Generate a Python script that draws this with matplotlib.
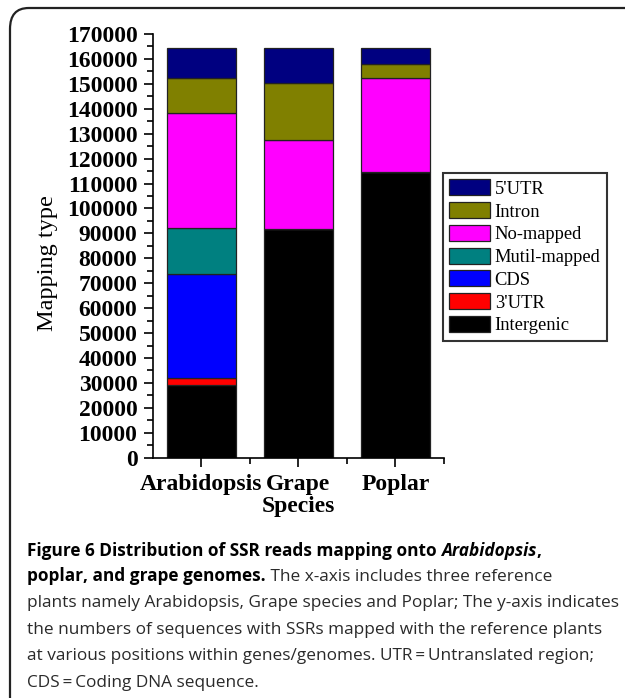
import matplotlib
matplotlib.use('Agg')
import matplotlib.pyplot as plt
from matplotlib.patches import FancyBboxPatch
from matplotlib.ticker import MultipleLocator, FixedLocator

species = ['Arabidopsis', 'Grape', 'Poplar']
# stacked from bottom to top
layers = ['Intergenic', "3'UTR", 'CDS', 'Mutil-mapped', 'No-mapped', 'Intron', "5'UTR"]
colors = ['#000000', '#ff0000', '#0000ff', '#008080', '#ff00ff', '#808000', '#000080']
intergenic = [29000, 91800, 114700]
utr3 = [2800, 0, 0]
cds = [41900, 0, 0]
mutil = [18300, 0, 0]
nomapped = [46200, 35600, 37500]
intron = [14000, 22800, 5900]
utr5 = [12000, 14000, 6100]
values = [intergenic, utr3, cds, mutil, nomapped, intron, utr5]

fig = plt.figure(figsize=(6.25, 6.98), dpi=100)
W, H = 625, 698

# rounded frame
frame = FancyBboxPatch((10 / W, -20 / H), 640 / W, (698 - 8 + 20) / H,
                       boxstyle='round,pad=0,rounding_size=0.03',
                       transform=fig.transFigure, fill=False,
                       ec='#222222', lw=1.6, clip_on=False)
fig.patches.append(frame)

ax = fig.add_axes([152.7 / W, 1 - 457.7 / H, (444 - 152.7) / W, (457.7 - 34) / H])

x = range(len(species))
bottom = [0, 0, 0]
handles = []
for name, col, vals in zip(layers, colors, values):
    b = ax.bar(x, vals, width=0.71, bottom=bottom, color=col,
               edgecolor='#222222', linewidth=0.9, label=name)
    handles.append(b)
    bottom = [bt + v for bt, v in zip(bottom, vals)]

ax.set_xlim(-0.5, 2.5)
ax.set_ylim(0, 170000)
ax.spines['top'].set_visible(False)
ax.spines['right'].set_visible(False)
ax.spines['left'].set_linewidth(1.2)
ax.spines['bottom'].set_linewidth(1.2)

ax.yaxis.set_major_locator(MultipleLocator(10000))
ax.yaxis.set_minor_locator(MultipleLocator(5000))
ax.set_xticks(list(x))
ax.set_xticklabels(['Arabidopsis', 'Grape', 'Poplar'])
ax.xaxis.set_minor_locator(FixedLocator([0.5, 1.5, 2.5]))
ax.tick_params(axis='both', which='major', direction='out', length=6.5, width=1.2)
ax.tick_params(axis='both', which='minor', direction='out', length=4.5, width=1.2)
ax.tick_params(axis='y', pad=4.5)
ax.tick_params(axis='x', pad=5)

for lab in ax.get_yticklabels():
    lab.set_fontfamily('Liberation Serif')
    lab.set_fontweight('bold')
    lab.set_fontsize(17)
for lab in ax.get_xticklabels():
    lab.set_fontfamily('Liberation Serif')
    lab.set_fontweight('bold')
    lab.set_fontsize(17)

ax.set_ylabel('Mapping type', family='Liberation Serif', fontsize=17.5)
ax.yaxis.set_label_coords(-0.325, 0.46)
ax.set_xlabel('Species', family='Liberation Serif', fontweight='bold', fontsize=17, labelpad=1)

leg = ax.legend(handles[::-1], layers[::-1], loc='upper left',
                bbox_to_anchor=(443 / W, 1 - 173 / H), bbox_transform=fig.transFigure,
                prop={'family': 'Liberation Serif', 'size': 13.3},
                frameon=True, fancybox=False, edgecolor='black',
                handlelength=2.2, handleheight=0.95, handletextpad=0.25,
                labelspacing=0.24, borderpad=0.35, borderaxespad=0)
leg.get_frame().set_linewidth(1.5)

# caption
renderer = fig.canvas.get_renderer()
cap_font = 'Open Sans'
cap_size = 12.4
grey = '#2a2a2a'
lines = [
    [('Figure 6 Distribution of SSR reads mapping onto ', 'bold', 'normal', 'black'),
     ('Arabidopsis', 'bold', 'italic', 'black'),
     (',', 'bold', 'normal', 'black')],
    [('poplar, and grape genomes.', 'bold', 'normal', 'black'),
     (' The x-axis includes three reference', 'normal', 'normal', grey)],
    [('plants namely Arabidopsis, Grape species and Poplar; The y-axis indicates', 'normal', 'normal', grey)],
    [('the numbers of sequences with SSRs mapped with the reference plants', 'normal', 'normal', grey)],
    [('at various positions within genes/genomes. UTR\u2009=\u2009Untranslated region;', 'normal', 'normal', grey)],
    [('CDS\u2009=\u2009Coding DNA sequence.', 'normal', 'normal', grey)],
]
baselines = [556, 581, 607, 634, 660, 687]
for parts, yb in zip(lines, baselines):
    xp = 27
    for txt, wt, st, col in parts:
        t = fig.text(xp / W, 1 - yb / H, txt, family=cap_font, fontweight=wt,
                     fontstyle=st, fontsize=cap_size, color=col,
                     ha='left', va='baseline')
        bb = t.get_window_extent(renderer=renderer)
        xp += bb.width

fig.savefig('out.png', dpi=100)
